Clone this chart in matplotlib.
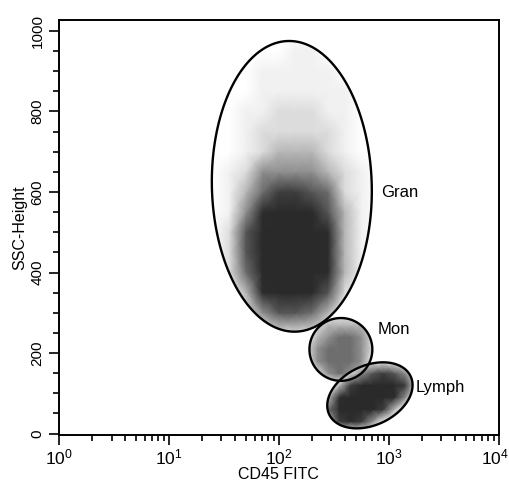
import numpy as np
import matplotlib
matplotlib.use("Agg")
import matplotlib.pyplot as plt
import matplotlib.transforms as mtransforms
from matplotlib.colors import LinearSegmentedColormap
from matplotlib.patches import Polygon
from matplotlib.ticker import FixedLocator, LogLocator, MultipleLocator, NullFormatter

plt.rcParams['font.family'] = ['Liberation Sans', 'DejaVu Sans']
plt.rcParams['mathtext.fontset'] = 'custom'
plt.rcParams['mathtext.rm'] = 'Liberation Sans'
plt.rcParams['mathtext.default'] = 'rm'

# gates: centre (CD45, SSC), half width in decades, half height in SSC, tilt
gate_names = ["Gran", "Mon", "Lymph"]
gate_cd45 = [131, 366, 672]
gate_ssc = [614, 209, 95]
gate_half_decades = [0.727, 0.286, 0.409]
gate_half_ssc = [361, 78, 74]
gate_angle = [1.5, 0, 25]
label_cd45 = [846, 794, 1760]
label_ssc = [598, 258, 114]

# dot density (0 = empty, 9 = solid), log10(CD45) x SSC grid
gran_logx = [1.4, 1.55, 1.7, 1.85, 2.0, 2.15, 2.3, 2.45, 2.6, 2.75, 2.9]
gran_ssc = [250, 300, 350, 400, 450, 500, 550, 600, 650, 700, 750, 800, 850, 900, 950, 1000]
gran_density = [
    [0, 0, 0, 1, 2, 2, 2, 1, 0, 0, 0],
    [0, 0, 2, 4, 6, 6, 5, 3, 1, 0, 0],
    [0, 1, 3, 8, 9, 9, 9, 6, 2, 0, 0],
    [0, 2, 5, 9, 9, 9, 9, 8, 3, 1, 0],
    [0, 2, 6, 9, 9, 9, 9, 8, 3, 1, 0],
    [0, 2, 6, 9, 9, 9, 9, 8, 3, 1, 0],
    [0, 1, 4, 8, 9, 9, 9, 6, 3, 1, 0],
    [0, 1, 3, 5, 7, 7, 6, 5, 2, 1, 0],
    [0, 1, 2, 4, 4, 4, 4, 3, 2, 1, 0],
    [0, 0, 1, 2, 3, 3, 3, 2, 1, 0, 0],
    [0, 0, 1, 2, 2, 2, 2, 2, 1, 0, 0],
    [0, 0, 1, 1, 2, 2, 2, 1, 1, 0, 0],
    [0, 0, 0, 1, 1, 1, 1, 1, 1, 0, 0],
    [0, 0, 0, 1, 1, 1, 1, 1, 0, 0, 0],
    [0, 0, 0, 0, 0, 1, 1, 0, 0, 0, 0],
    [0, 0, 0, 0, 0, 0, 0, 0, 0, 0, 0],
]

mon_logx = [2.25, 2.35, 2.45, 2.55, 2.65, 2.75, 2.85]
mon_ssc = [120, 150, 180, 210, 240, 270, 300]
mon_density = [
    [0, 0, 1, 1, 1, 0, 0],
    [0, 2, 4, 5, 4, 3, 0],
    [1, 4, 5, 5, 5, 4, 1],
    [2, 4, 5, 5, 5, 4, 2],
    [1, 3, 4, 5, 5, 4, 2],
    [0, 2, 3, 3, 3, 3, 1],
    [0, 0, 1, 1, 1, 0, 0],
]

lymph_logx = [2.45, 2.55, 2.65, 2.75, 2.85, 2.95, 3.05, 3.15, 3.25]
lymph_ssc = [0, 30, 60, 90, 120, 150, 180]
lymph_density = [
    [0, 0, 0, 0, 0, 0, 0, 0, 0],
    [3, 7, 8, 7, 4, 1, 0, 0, 0],
    [5, 9, 9, 9, 9, 7, 3, 0, 0],
    [3, 8, 9, 9, 9, 9, 8, 4, 0],
    [0, 3, 7, 9, 9, 9, 9, 7, 2],
    [0, 0, 2, 4, 6, 7, 6, 4, 1],
    [0, 0, 0, 0, 1, 1, 1, 0, 0],
]

fig = plt.figure(figsize=(5.09, 4.88), dpi=100)
ax = fig.add_axes([0.116, 0.109, 0.864, 0.850])
ax.set_xscale('log')
ax.set_xlim(1, 1e4)
ax.set_ylim(-3, 1027)

# scale between decades and SSC units on screen, to draw tilted gates
ax_w = 5.09 * 0.864
ax_h = 4.88 * 0.850
sx = ax_w / 4.0
sy = ax_h / 1030.0


def gate_outline(cd45, ssc, half_dec, half_ssc, angle):
    t = np.linspace(0, 2 * np.pi, 200, endpoint=False)
    a = half_dec * sx
    b = half_ssc * sy
    th = np.deg2rad(angle)
    px = a * np.cos(t) * np.cos(th) - b * np.sin(t) * np.sin(th)
    py = a * np.cos(t) * np.sin(th) + b * np.sin(t) * np.cos(th)
    xs = 10 ** (np.log10(cd45) + px / sx)
    ys = ssc + py / sy
    return xs, ys


cmap = LinearSegmentedColormap.from_list(
    "dots", [(0, "#ffffff"), (0.12, "#f0f0f0"), (0.25, "#d6d6d6"), (0.5, "#7a7a7a"),
             (0.85, "#2e2e2e"), (1, "#2a2a2a")])
clouds = [(gran_logx, gran_ssc, gran_density),
          (mon_logx, mon_ssc, mon_density),
          (lymph_logx, lymph_ssc, lymph_density)]

for i, name in enumerate(gate_names):
    xs, ys = gate_outline(gate_cd45[i], gate_ssc[i], gate_half_decades[i],
                          gate_half_ssc[i], gate_angle[i])
    lx, ls, dens = clouds[i]
    X, Y = np.meshgrid(10 ** np.array(lx), np.array(ls))
    mesh = ax.pcolormesh(X, Y, np.array(dens, dtype=float), shading='gouraud',
                         cmap=cmap, vmin=0, vmax=9, zorder=1)
    clip = Polygon(np.column_stack([xs, ys]), closed=True, transform=ax.transData)
    mesh.set_clip_path(clip)
    ax.add_patch(Polygon(np.column_stack([xs, ys]), closed=True, fill=False,
                         edgecolor='black', lw=1.7, zorder=3))
    ax.text(label_cd45[i], label_ssc[i], name, fontsize=12, ha='left', va='center')

ax.xaxis.set_major_locator(FixedLocator([1, 10, 100, 1000, 10000]))
ax.set_xticklabels([r'$10^{0}$', r'$10^{1}$', r'$10^{2}$', r'$10^{3}$', r'$10^{4}$'])
ax.xaxis.set_minor_locator(LogLocator(base=10, subs=np.arange(2, 10)))
ax.xaxis.set_minor_formatter(NullFormatter())
ax.yaxis.set_major_locator(MultipleLocator(200))
ax.yaxis.set_minor_locator(MultipleLocator(50))

ax.tick_params(which='both', direction='out', width=1.2)
ax.tick_params(which='major', length=7)
ax.tick_params(which='minor', length=4)
ax.tick_params(axis='x', labelsize=12.5, pad=2)
ax.tick_params(axis='y', labelrotation=90, labelsize=11)
for lbl in ax.get_yticklabels():
    lbl.set_va('center')
for s in ax.spines.values():
    s.set_linewidth(1.4)

# last x label sits on the figure edge; nudge it in a little
last = ax.get_xticklabels()[-1]
last.set_transform(last.get_transform() +
                   mtransforms.ScaledTranslation(-4 / 100, 0, fig.dpi_scale_trans))

ax.set_xlabel("CD45 FITC", fontsize=11.5, labelpad=0)
ax.set_ylabel("SSC-Height", fontsize=11.5, labelpad=2)

fig.savefig("out.png", dpi=100)
